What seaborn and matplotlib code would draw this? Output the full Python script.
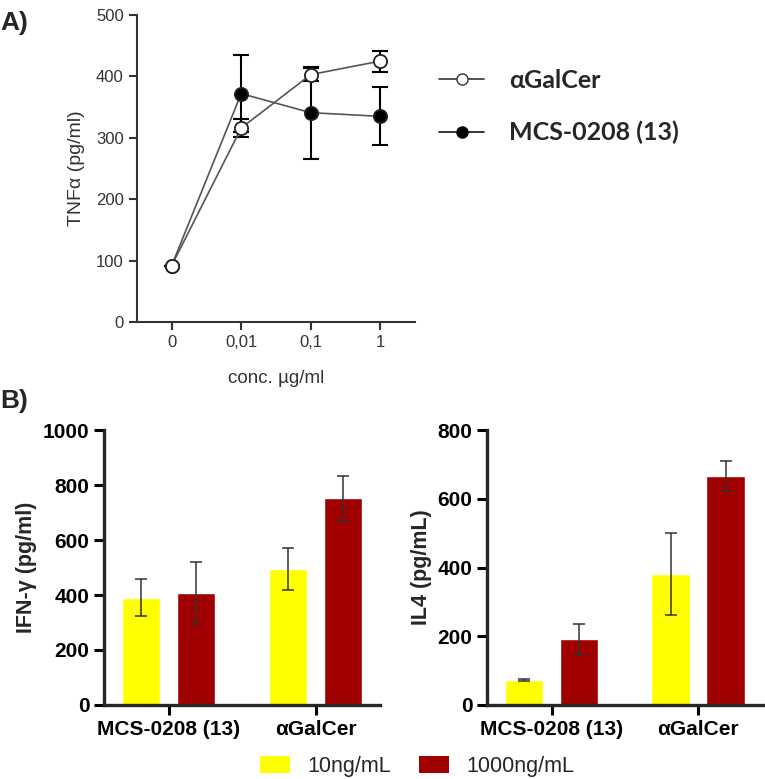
import numpy as np
import pandas as pd
import seaborn as sns
import matplotlib.pyplot as plt
from matplotlib.lines import Line2D
from matplotlib.patches import Patch

# ==========================================
# Data
# ==========================================
conc_labels = ["0", "0,01", "0,1", "1"]
galcer_tnf = [92, 316, 403, 425]
galcer_tnf_err = [0, 15, 10, 17]
mcs_tnf = [92, 372, 341, 335]
mcs_tnf_err = [0, 63, 75, 47]

compounds = ["MCS-0208 (13)", "αGalCer"]
doses = ["10ng/mL", "1000ng/mL"]
ifn_10 = [390, 495]
ifn_10_err = [67, 75]
ifn_1000 = [408, 751]
ifn_1000_err = [113, 83]
il4_10 = [73, 381]
il4_10_err = [2, 120]
il4_1000 = [191, 667]
il4_1000_err = [45, 43]

dose_colors = ["#ffff00", "#a00000"]

sns.set_style("ticks")
plt.rcParams['font.family'] = ['Liberation Sans', 'DejaVu Sans']
plt.rcParams['font.sans-serif'] = ['Liberation Sans', 'DejaVu Sans']

fig = plt.figure(figsize=(7.65, 7.79), dpi=100)

# ==========================================
# Panel A: TNF-alpha line plot
# ==========================================
axA = fig.add_axes([0.179, 0.5866, 0.3635, 0.3941])
xpos = np.arange(len(conc_labels))
grey = "#333333"

for vals, errs, face in [(mcs_tnf, mcs_tnf_err, "black"), (galcer_tnf, galcer_tnf_err, "white")]:
    axA.errorbar(xpos, vals, yerr=errs, fmt="none", ecolor="black", elinewidth=1.5,
                 capsize=5.5, capthick=1.5, zorder=2)
    sns.lineplot(x=xpos, y=vals, ax=axA, color="#555555", linewidth=1.2, marker="o",
                 markersize=9.5, markerfacecolor=face, markeredgecolor="#222222",
                 markeredgewidth=1.3, zorder=3)

axA.set_xlim(-0.5, 3.5)
axA.set_ylim(0, 500)
axA.set_yticks([0, 100, 200, 300, 400, 500])
axA.set_xticks(xpos)
axA.set_xticklabels(conc_labels)
axA.tick_params(labelsize=12, colors=grey, width=1.5, length=6)
axA.set_ylabel("TNFα (pg/ml)", fontsize=14, color=grey, labelpad=8)
axA.set_xlabel("conc. µg/ml", fontsize=13.5, color=grey, labelpad=14)
for s in ["left", "bottom"]:
    axA.spines[s].set_linewidth(1.5)
    axA.spines[s].set_color(grey)
sns.despine(ax=axA)

legA = [Line2D([], [], color="#333333", marker="o", markerfacecolor="white",
               markeredgecolor="#333333", markersize=8, linewidth=1.2),
        Line2D([], [], color="#111111", marker="o", markerfacecolor="black",
               markeredgecolor="black", markersize=8, linewidth=1.2)]
fig.legend(legA, ["αGalCer", "MCS-0208 (13)"], loc="upper left",
           bbox_to_anchor=(0.545, 0.94), frameon=False, labelspacing=1.15,
           handlelength=1.8, handletextpad=1.0,
           prop={"family": ["Lato", "DejaVu Sans"], "weight": "bold", "size": 18})

fig.text(0.0, 0.970, "A)", fontsize=19, fontweight="bold", va="center")
fig.text(0.0, 0.485, "B)", fontsize=19, fontweight="bold", va="center")

# ==========================================
# Panel B: IFN-gamma and IL4 bar plots
# ==========================================
def bar_panel(ax, v10, e10, v1000, e1000, ymax, ylabel):
    df = pd.DataFrame({
        "compound": compounds * 2,
        "dose": [doses[0]] * 2 + [doses[1]] * 2,
        "value": v10 + v1000,
    })
    sns.barplot(data=df, x="compound", y="value", hue="dose", order=compounds,
                hue_order=doses, palette=dose_colors, width=0.75, gap=0.3,
                errorbar=None, legend=False, ax=ax, saturation=1)
    errs = e10 + e1000
    for patch, err, val in zip(ax.patches, errs, v10 + v1000):
        cx = patch.get_x() + patch.get_width() / 2
        ax.errorbar(cx, val, yerr=err, fmt="none", ecolor="#333333",
                    elinewidth=1.1, capsize=4.5, capthick=1.1)
    ax.set_xlim(-0.44, 1.44)
    ax.set_ylim(0, ymax)
    ax.set_yticks(np.arange(0, ymax + 1, 200))
    ax.set_xlabel("")
    ax.set_ylabel(ylabel, fontsize=15.5, fontweight="bold", labelpad=4)
    ax.tick_params(labelsize=15, width=2.2, length=7, colors="black")
    for lab in ax.get_xticklabels() + ax.get_yticklabels():
        lab.set_fontweight("bold")
    for s in ["left", "bottom"]:
        ax.spines[s].set_linewidth(2.4)
    sns.despine(ax=ax)

axB1 = fig.add_axes([0.136, 0.095, 0.361, 0.353])
bar_panel(axB1, ifn_10, ifn_10_err, ifn_1000, ifn_1000_err, 1000, "IFN-γ (pg/ml)")
axB2 = fig.add_axes([0.6366, 0.095, 0.3604, 0.353])
bar_panel(axB2, il4_10, il4_10_err, il4_1000, il4_1000_err, 800, "IL4 (pg/mL)")

legB = [Patch(facecolor=c, edgecolor="none") for c in dose_colors]
fig.legend(legB, doses, loc="center", bbox_to_anchor=(0.545, 0.016), ncol=2,
           frameon=False, fontsize=15.5, handlelength=1.4, handleheight=0.8,
           columnspacing=1.3, handletextpad=0.8)

fig.savefig("out.png", dpi=100)
